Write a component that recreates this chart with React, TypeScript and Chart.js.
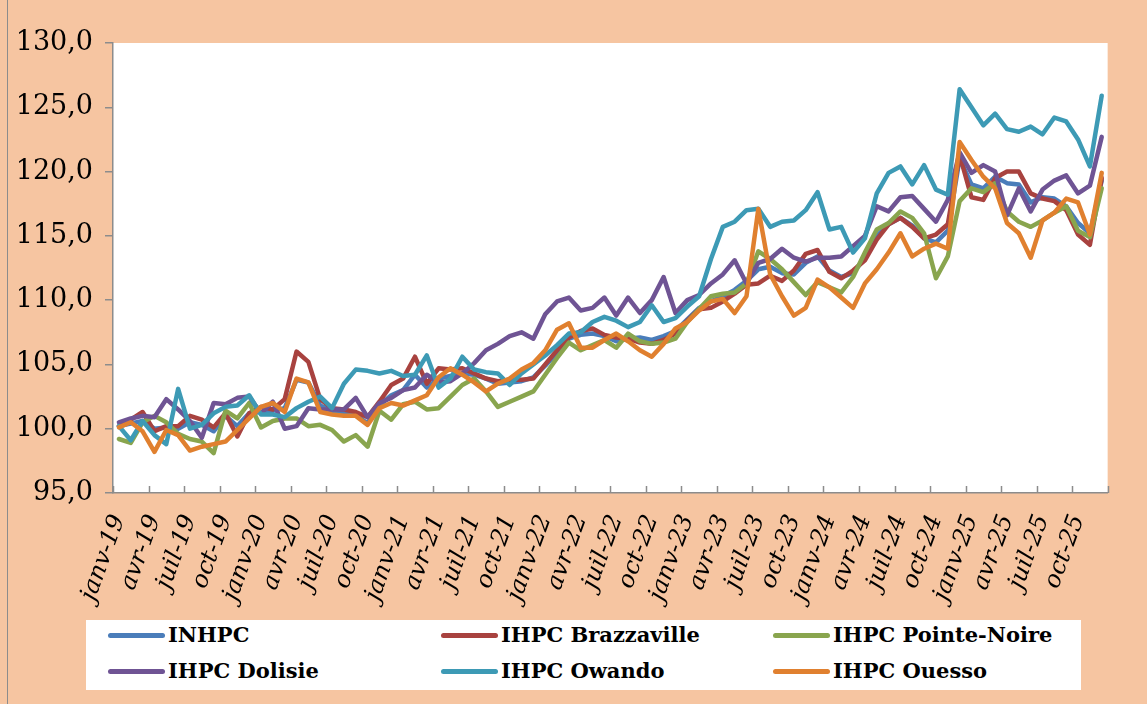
import React, { useEffect, useRef } from 'react';
import { Chart, registerables } from 'chart.js';

Chart.register(...registerables);

const monthNames = ['janv', 'févr', 'mars', 'avr', 'mai', 'juin', 'juil', 'août', 'sept', 'oct', 'nov', 'déc'];
const years = ['19', '20', '21', '22', '23', '24', '25'];
const categories: string[] = years.flatMap((y) => monthNames.map((m) => `${m}-${y}`));

const yTicks = [95, 100, 105, 110, 115, 120, 125, 130];

const inhpc = [
  100.2, 100.4, 100.6, 100.0, 100.1, 100.0, 100.5, 100.3, 99.8, 101.0, 100.2, 101.2,
  101.3, 101.4, 101.6, 103.8, 103.6, 101.8, 101.4, 101.2, 101.1, 100.4, 101.8, 102.6,
  103.0, 104.2, 103.2, 103.9, 104.1, 104.3, 104.2, 103.9, 103.5, 103.6, 103.7, 104.0,
  104.9, 105.9, 107.0, 107.3, 107.4, 107.2, 106.8, 107.0, 107.1, 106.9, 107.2, 107.6,
  108.5, 109.4, 109.9, 110.3, 110.8, 111.5, 112.4, 112.6, 112.1, 112.0, 112.9, 113.4,
  112.3, 111.8, 112.1, 113.3, 115.0, 115.9, 116.4, 115.8, 114.8, 114.5, 115.4, 121.0,
  119.0, 118.7, 119.6, 119.1, 119.0, 117.6, 118.0, 117.9, 117.3, 116.0, 115.2, 119.3,
];
const brazzaville = [
  100.2, 100.7, 101.3, 99.8, 100.2, 100.2, 101.0, 100.7, 100.1, 101.2, 99.4, 101.2,
  101.7, 101.5, 102.3, 106.0, 105.2, 102.3, 101.6, 101.5, 101.3, 100.9, 102.1, 103.4,
  103.9, 105.6, 103.5, 104.7, 104.6, 104.7, 104.3, 103.9, 103.7, 103.8, 103.8, 103.9,
  105.0, 106.1, 107.1, 107.6, 107.8, 107.3, 107.1, 107.0, 106.7, 106.6, 106.9, 107.4,
  108.4, 109.3, 109.4, 109.9, 110.5, 111.2, 111.3, 111.9, 111.5, 112.3, 113.6, 113.9,
  112.2, 111.7, 112.3, 113.1, 114.7, 115.9, 116.4, 115.7, 114.8, 115.1, 115.9, 121.3,
  118.0, 117.8, 119.5, 120.0, 120.0, 118.3, 117.9, 117.7, 117.0, 115.1, 114.3, 119.5,
];
const pointeNoire = [
  99.2, 98.9, 100.5, 101.0, 100.5, 99.6, 99.2, 99.0, 98.1, 101.4, 100.8, 102.0,
  100.1, 100.6, 100.8, 100.8, 100.2, 100.3, 99.9, 99.0, 99.5, 98.6, 101.4, 100.7,
  101.9, 102.1, 101.5, 101.6, 102.5, 103.4, 103.9, 102.9, 101.7, 102.1, 102.5, 102.9,
  104.2, 105.5, 106.7, 106.1, 106.5, 106.9, 106.3, 107.4, 106.8, 106.6, 106.7, 107.0,
  108.3, 109.3, 110.3, 110.5, 110.6, 111.3, 113.8, 113.2, 112.4, 111.4, 110.4, 111.4,
  111.0, 110.6, 111.8, 113.7, 115.5, 116.0, 116.9, 116.4, 115.2, 111.7, 113.4, 117.7,
  118.7, 118.4, 119.1, 116.9, 116.1, 115.7, 116.2, 116.8, 117.3, 115.4, 114.9, 118.7,
];
const dolisie = [
  100.5, 100.8, 101.0, 100.9, 102.3, 101.5, 100.6, 99.3, 102.0, 101.9, 102.4, 102.5,
  101.2, 102.1, 100.0, 100.2, 101.6, 101.5, 101.5, 101.5, 102.4, 100.9, 102.0, 102.4,
  103.0, 103.2, 104.2, 103.6, 103.7, 104.3, 105.1, 106.1, 106.6, 107.2, 107.5, 107.0,
  108.9, 109.9, 110.2, 109.2, 109.4, 110.2, 108.8, 110.2, 109.0, 110.0, 111.8, 109.0,
  110.0, 110.4, 111.3, 112.0, 113.1, 111.3, 112.9, 113.2, 114.0, 113.3, 113.0, 113.3,
  113.3, 113.4, 114.2, 115.0, 117.3, 116.9, 118.0, 118.1, 117.1, 116.1, 117.8, 121.5,
  119.9, 120.5, 120.0, 116.6, 118.7, 116.9, 118.6, 119.3, 119.7, 118.3, 118.9, 122.7,
];
const owando = [
  100.2, 99.1, 100.6, 99.5, 98.8, 103.1, 100.0, 100.3, 101.2, 101.7, 101.8, 102.6,
  101.1, 101.1, 100.9, 101.6, 102.1, 102.5, 101.6, 103.5, 104.6, 104.5, 104.3, 104.5,
  104.1, 104.2, 105.7, 103.2, 103.9, 105.6, 104.6, 104.4, 104.3, 103.4, 104.3, 105.0,
  105.7, 106.5, 107.4, 107.5, 108.3, 108.7, 108.4, 107.9, 108.3, 109.6, 108.3, 108.6,
  109.5, 110.3, 113.2, 115.7, 116.1, 117.0, 117.1, 115.7, 116.1, 116.2, 117.0, 118.4,
  115.5, 115.7, 113.7, 114.8, 118.3, 119.9, 120.4, 119.0, 120.5, 118.6, 118.2, 126.4,
  125.0, 123.6, 124.5, 123.3, 123.1, 123.5, 122.9, 124.2, 123.9, 122.5, 120.4, 125.9,
];
const ouesso = [
  100.1, 100.5, 99.8, 98.2, 99.9, 99.5, 98.3, 98.6, 98.8, 99.0, 99.9, 100.8,
  101.7, 102.0, 101.3, 103.9, 103.6, 101.3, 101.1, 101.0, 101.0, 100.3, 101.6, 102.0,
  101.8, 102.2, 102.6, 104.0, 104.7, 104.2, 103.6, 102.9, 103.5, 103.9, 104.6, 105.1,
  106.1, 107.7, 108.2, 106.3, 106.3, 106.9, 107.4, 106.8, 106.1, 105.6, 106.6, 107.8,
  108.3, 109.2, 109.9, 110.1, 109.0, 110.3, 117.1, 112.0, 110.3, 108.8, 109.4, 111.6,
  111.0, 110.2, 109.4, 111.3, 112.4, 113.7, 115.2, 113.4, 114.0, 114.4, 114.0, 122.3,
  120.9, 119.6, 118.7, 116.0, 115.2, 113.3, 116.2, 116.8, 117.9, 117.6, 115.1, 119.9,
];

const seriesNames = ['INHPC', 'IHPC Brazzaville', 'IHPC Pointe-Noire', 'IHPC Dolisie', 'IHPC Owando', 'IHPC Ouesso'];
const seriesData = [inhpc, brazzaville, pointeNoire, dolisie, owando, ouesso];
const seriesColors = ['#4A7DBA', '#A8423F', '#89A54E', '#6F5494', '#3D9AB5', '#E0802F'];

const BG = '#F6C5A1';
const AXIS = '#8C8C8C';
const SERIF = '"DejaVu Serif", serif';

const plotBg = {
  id: 'plotBg',
  beforeDraw(chart: any) {
    const { ctx, chartArea } = chart;
    ctx.save();
    ctx.fillStyle = '#FFFFFF';
    ctx.fillRect(chartArea.left, chartArea.top, chartArea.right - chartArea.left, chartArea.bottom - chartArea.top);
    ctx.restore();
  },
};

const innerTicks = {
  id: 'innerTicks',
  afterDatasetsDraw(chart: any) {
    const { ctx, chartArea } = chart;
    const x = chart.scales.x;
    const n = categories.length;
    const w = x.getPixelForValue(1) - x.getPixelForValue(0);
    ctx.save();
    ctx.strokeStyle = AXIS;
    ctx.lineWidth = 1.5;
    ctx.beginPath();
    for (let i = 0; i <= n; i += 3) {
      const px = i < n ? x.getPixelForValue(i) - w / 2 : x.getPixelForValue(n - 1) + w / 2;
      ctx.moveTo(Math.round(px) + 0.5, chartArea.bottom);
      ctx.lineTo(Math.round(px) + 0.5, chartArea.bottom - 7);
    }
    ctx.stroke();
    ctx.restore();
  },
};

export default function App() {
  const ref = useRef<HTMLCanvasElement | null>(null);

  useEffect(() => {
    if (!ref.current) return;
    const chart = new Chart(ref.current, {
      type: 'line',
      data: {
        labels: categories,
        datasets: seriesNames.map((name, k) => ({
          label: name,
          data: seriesData[k],
          borderColor: seriesColors[k],
          backgroundColor: seriesColors[k],
          borderWidth: 4.5,
          pointRadius: 0,
          tension: 0,
          borderJoinStyle: 'round' as const,
          borderCapStyle: 'round' as const,
          order: seriesNames.length - k,
        })),
      },
      options: {
        animation: false,
        responsive: false,
        maintainAspectRatio: false,
        layout: { padding: { left: 0, top: 43, right: 35, bottom: 0 } },
        plugins: { legend: { display: false }, tooltip: { enabled: false } },
        scales: {
          x: {
            type: 'category',
            offset: true,
            grid: { display: false, drawTicks: false },
            border: { color: AXIS, width: 1.5 },
            ticks: {
              autoSkip: false,
              minRotation: 70,
              maxRotation: 70,
              padding: 18,
              color: '#000',
              font: { family: SERIF, size: 24, style: 'italic' },
              callback: (_v: any, i: number) => (i % 3 === 0 ? categories[i] : ''),
            },
            afterFit: (s: any) => {
              s.height = 211;
            },
          },
          y: {
            min: 95,
            max: 130,
            afterBuildTicks: (s: any) => {
              s.ticks = yTicks.map((v) => ({ value: v }));
            },
            grid: { drawOnChartArea: false, tickLength: 8, color: AXIS, lineWidth: 1.5 },
            border: { color: AXIS, width: 1.5 },
            ticks: {
              padding: 12,
              color: '#000',
              font: { family: SERIF, size: 27 },
              callback: (v: any) => Number(v).toFixed(1).replace('.', ','),
            },
            afterFit: (s: any) => {
              s.width = 113;
            },
          },
        },
      },
      plugins: [plotBg, innerTicks],
    });
    return () => chart.destroy();
  }, []);

  const colX = [108, 441, 773];
  return (
    <div style={{ position: 'fixed', left: 0, top: 0, width: 1147, height: 704, background: BG, overflow: 'hidden' }}>
      <div style={{ position: 'absolute', left: 7, top: 0, width: 1, height: 704, background: AXIS }} />
      <canvas ref={ref} width={1147} height={704} style={{ position: 'absolute', left: 0, top: 0, width: 1147, height: 704 }} />
      <div style={{ position: 'absolute', left: 86, top: 620, width: 995, height: 70, background: '#FFFFFF' }}>
        {seriesNames.map((name, k) => {
          const col = k % 3;
          const row = Math.floor(k / 3);
          return (
            <div
              key={name}
              style={{
                position: 'absolute',
                left: colX[col] - 86,
                top: 15 + row * 36 - 12,
                height: 24,
                display: 'flex',
                alignItems: 'center',
                whiteSpace: 'nowrap',
              }}
            >
              <span style={{ display: 'inline-block', width: 57, height: 5, borderRadius: 3, background: seriesColors[k], marginRight: 3 }} />
              <span style={{ fontFamily: SERIF, fontWeight: 'bold', fontSize: 21, color: '#000', lineHeight: '24px' }}>{name}</span>
            </div>
          );
        })}
      </div>
    </div>
  );
}
